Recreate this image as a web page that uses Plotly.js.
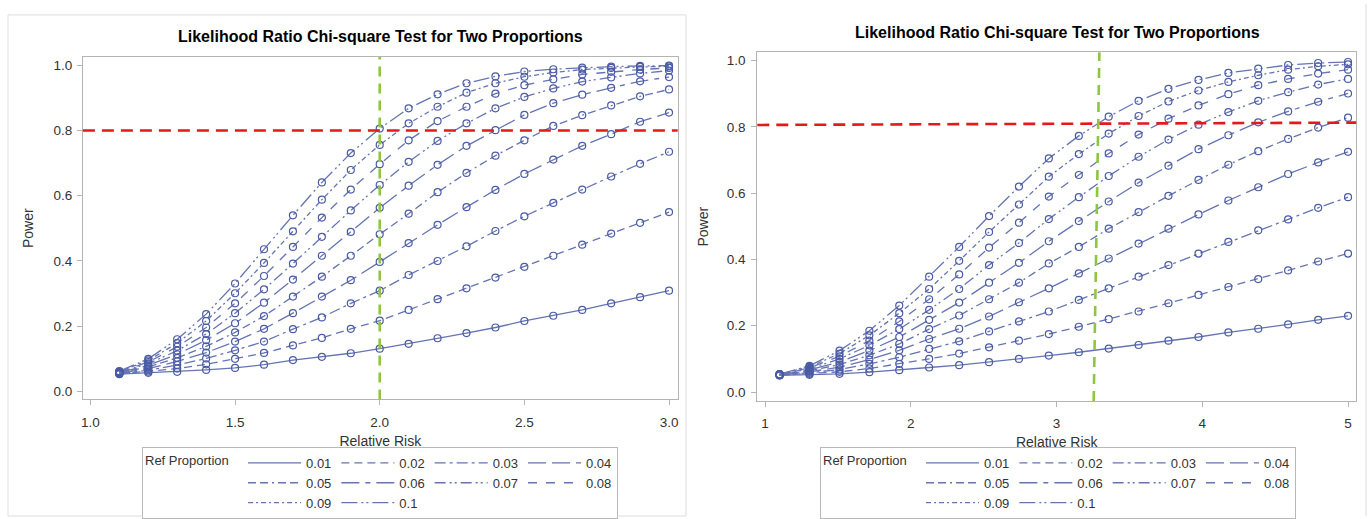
<!DOCTYPE html>
<html>
<head>
<meta charset="utf-8">
<script src="https://cdn.plot.ly/plotly-3.0.1.min.js"></script>
<style>
html,body{margin:0;padding:0;background:#ffffff;}
#chart{width:1370px;height:519px;}
</style>
</head>
<body>
<div id="chart"></div>
<script>
// ---------------- data ----------------
const chartTitle = 'Likelihood Ratio Chi-square Test for Two Proportions';
const refProportions = ['0.01','0.02','0.03','0.04','0.05','0.06','0.07','0.08','0.09','0.1'];

// Left panel: relative risk 1.1 .. 3.0
const relRiskLeft = [1.1,1.2,1.3,1.4,1.5,1.6,1.7,1.8,1.9,2.0,2.1,2.2,2.3,2.4,2.5,2.6,2.7,2.8,2.9,3.0];
const powerLeft01 = [0.053,0.057,0.060,0.066,0.072,0.082,0.096,0.106,0.117,0.131,0.146,0.163,0.179,0.196,0.216,0.232,0.250,0.270,0.289,0.309];
const powerLeft02 = [0.054,0.061,0.070,0.083,0.100,0.118,0.141,0.164,0.192,0.217,0.250,0.283,0.316,0.349,0.382,0.416,0.450,0.484,0.517,0.550];
const powerLeft03 = [0.055,0.065,0.081,0.101,0.126,0.153,0.191,0.227,0.270,0.309,0.357,0.400,0.445,0.492,0.537,0.578,0.619,0.659,0.698,0.735];
const powerLeft04 = [0.056,0.070,0.092,0.119,0.153,0.192,0.240,0.291,0.341,0.397,0.455,0.511,0.565,0.618,0.667,0.711,0.753,0.789,0.827,0.855];
const powerLeft05 = [0.057,0.075,0.103,0.138,0.181,0.231,0.291,0.352,0.416,0.482,0.545,0.611,0.670,0.723,0.770,0.814,0.847,0.877,0.905,0.926];
const powerLeft06 = [0.058,0.080,0.114,0.157,0.209,0.272,0.343,0.416,0.489,0.563,0.631,0.695,0.753,0.801,0.848,0.884,0.910,0.931,0.951,0.964];
const powerLeft07 = [0.059,0.085,0.125,0.176,0.240,0.313,0.392,0.474,0.555,0.633,0.704,0.768,0.822,0.868,0.903,0.929,0.950,0.963,0.975,0.984];
const powerLeft08 = [0.060,0.090,0.137,0.196,0.270,0.354,0.443,0.533,0.619,0.697,0.770,0.829,0.873,0.913,0.939,0.957,0.972,0.980,0.987,0.992];
const powerLeft09 = [0.061,0.095,0.148,0.216,0.301,0.394,0.491,0.588,0.679,0.756,0.822,0.873,0.916,0.945,0.965,0.978,0.987,0.992,0.995,0.997];
const powerLeft10 = [0.062,0.100,0.160,0.237,0.331,0.436,0.540,0.641,0.731,0.806,0.868,0.911,0.945,0.966,0.981,0.988,0.993,0.996,0.998,0.999];

// Right panel: relative risk 1.1 .. 5.0
const relRiskRight = [1.1,1.305,1.511,1.716,1.921,2.126,2.332,2.537,2.742,2.947,3.153,3.358,3.563,3.768,3.974,4.179,4.384,4.589,4.795,5.0];
const powerRight01 = [0.050,0.052,0.055,0.060,0.066,0.074,0.081,0.090,0.100,0.110,0.120,0.131,0.142,0.155,0.166,0.180,0.191,0.204,0.218,0.230];
const powerRight02 = [0.051,0.055,0.061,0.071,0.085,0.100,0.116,0.135,0.155,0.175,0.197,0.220,0.243,0.268,0.293,0.317,0.341,0.367,0.394,0.418];
const powerRight03 = [0.051,0.058,0.068,0.085,0.105,0.130,0.153,0.183,0.213,0.243,0.278,0.313,0.348,0.383,0.418,0.453,0.488,0.521,0.556,0.588];
const powerRight04 = [0.051,0.061,0.075,0.098,0.126,0.160,0.191,0.228,0.271,0.313,0.358,0.403,0.448,0.493,0.536,0.578,0.618,0.658,0.693,0.725];
const powerRight05 = [0.052,0.064,0.083,0.111,0.145,0.190,0.231,0.280,0.330,0.388,0.438,0.493,0.543,0.592,0.640,0.686,0.727,0.764,0.798,0.828];
const powerRight06 = [0.052,0.067,0.091,0.125,0.166,0.218,0.270,0.330,0.390,0.455,0.516,0.575,0.632,0.683,0.733,0.775,0.814,0.847,0.876,0.901];
const powerRight07 = [0.053,0.070,0.100,0.141,0.190,0.248,0.311,0.383,0.450,0.522,0.588,0.652,0.710,0.762,0.807,0.845,0.879,0.905,0.928,0.945];
const powerRight08 = [0.053,0.073,0.108,0.155,0.213,0.280,0.355,0.436,0.511,0.590,0.655,0.720,0.777,0.825,0.865,0.899,0.926,0.945,0.961,0.973];
const powerRight09 = [0.054,0.076,0.116,0.171,0.238,0.311,0.396,0.483,0.566,0.650,0.718,0.780,0.833,0.877,0.910,0.936,0.956,0.973,0.983,0.989];
const powerRight10 = [0.054,0.079,0.125,0.185,0.261,0.348,0.438,0.531,0.620,0.705,0.773,0.831,0.879,0.915,0.942,0.963,0.976,0.987,0.993,0.996];

// Reference lines (target power and relative risk)
const targetPowerLeft = [0.8, 0.8];
const targetRRLeft = [2.0, 2.0];
const targetPowerRight = [0.806, 0.813];
const targetRRRight = [3.255, 3.294];

// ---------------- styles ----------------
const powerLeft = [powerLeft01,powerLeft02,powerLeft03,powerLeft04,powerLeft05,powerLeft06,powerLeft07,powerLeft08,powerLeft09,powerLeft10];
const powerRight = [powerRight01,powerRight02,powerRight03,powerRight04,powerRight05,powerRight06,powerRight07,powerRight08,powerRight09,powerRight10];
const dashes = [
  'solid',
  '8px,5px',
  '11px,4px,3px,4px',
  '18px,6px',
  '8px,4px,8px,4px,2px,4px',
  '18px,6px,5px,6px',
  '11px,4px,2px,3px,2px,4px',
  '9px,9px',
  '5px,3px,2px,3px',
  '16px,4px,2px,3px,2px,4px'
];
const lineColor = '#6574b3';
const markerColor = '#4b5ba6';
const FONT = 'Liberation Sans, Arial, sans-serif';
const W = 1370, H = 519;
const px = v => v / W;
const py = v => 1 - v / H;

const traces = [];
function addPanel(xs, ys, xa, ya, legendName) {
  ys.forEach((y, i) => {
    traces.push({
      type: 'scatter', mode: 'lines', x: xs, y: y, xaxis: xa, yaxis: ya,
      name: refProportions[i], legend: legendName, legendgroup: legendName + 'c' + (i % 4),
      line: {color: lineColor, width: 1.3, dash: dashes[i]},
      hoverinfo: 'skip'
    });
  });
  ys.forEach((y, i) => {
    traces.push({
      type: 'scatter', mode: 'markers', x: xs, y: y, xaxis: xa, yaxis: ya,
      name: refProportions[i], showlegend: false,
      marker: {symbol: 'circle-open', size: 7, color: markerColor, line: {width: 1.2, color: markerColor}}
    });
  });
}
addPanel(relRiskLeft, powerLeft, 'x', 'y', 'legend');
addPanel(relRiskRight, powerRight, 'x2', 'y2', 'legend2');

const axisCommon = {
  showline: true, mirror: true, linecolor: '#b4b4b4', linewidth: 1,
  ticks: 'outside', ticklen: 5, tickcolor: '#b4b4b4', tickwidth: 1,
  showgrid: false, zeroline: false,
  tickfont: {family: FONT, size: 13.5, color: '#333333'}
};
const titleFont = {family: FONT, size: 14, color: '#333333'};

const legendCommon = {
  orientation: 'h', traceorder: 'grouped', tracegroupgap: 0,
  xanchor: 'left', yanchor: 'top', y: py(449.5),
  bgcolor: '#ffffff', bordercolor: '#b8b8b8', borderwidth: 1,
  font: {family: FONT, size: 13, color: '#333333'},
  title: {text: 'Ref Proportion\u00a0\u00a0', side: 'left', font: {family: FONT, size: 13, color: '#333333'}},
  itemwidth: 53
};

const layout = {
  width: W, height: H,
  margin: {l: 0, r: 0, t: 0, b: 0},
  paper_bgcolor: '#ffffff', plot_bgcolor: '#ffffff',
  showlegend: true,
  xaxis: Object.assign({}, axisCommon, {
    domain: [px(82.9), px(677.7)], range: [0.974, 3.030], anchor: 'y',
    tick0: 1, dtick: 0.5, tickformat: '.1f', ticklabelstandoff: 5,
    title: {text: 'Relative Risk', font: titleFont, standoff: 7}
  }),
  yaxis: Object.assign({}, axisCommon, {
    domain: [py(401.7), py(57.3)], range: [-0.0244, 1.0256], anchor: 'x',
    tick0: 0, dtick: 0.2, tickformat: '.1f', ticklabelstandoff: 2,
    title: {text: 'Power', font: titleFont, standoff: 16}
  }),
  xaxis2: Object.assign({}, axisCommon, {
    domain: [px(757.3), px(1356.2)], range: [0.947, 5.056], anchor: 'y2',
    tick0: 1, dtick: 1, ticklabelstandoff: 5,
    title: {text: 'Relative Risk', font: titleFont, standoff: 7}
  }),
  yaxis2: Object.assign({}, axisCommon, {
    domain: [py(403.3), py(52.7)], range: [-0.027, 1.025], anchor: 'x2',
    tick0: 0, dtick: 0.2, tickformat: '.1f', ticklabelstandoff: 3,
    title: {text: 'Power', font: titleFont, standoff: 14}
  }),
  legend: Object.assign({}, legendCommon, {x: px(142)}),
  legend2: Object.assign({}, legendCommon, {x: px(820)}),
  annotations: [
    {text: chartTitle, xref: 'paper', yref: 'paper', x: px(380), y: py(36.7), xanchor: 'center', yanchor: 'middle',
     showarrow: false, font: {family: FONT, size: 16, color: '#000000', weight: 'bold'}},
    {text: chartTitle, xref: 'paper', yref: 'paper', x: px(1057.5), y: py(32.3), xanchor: 'center', yanchor: 'middle',
     showarrow: false, font: {family: FONT, size: 16, color: '#000000', weight: 'bold'}}
  ],
  shapes: [
    // light outer frames of the two pictures
    {type: 'rect', xref: 'paper', yref: 'paper', x0: px(8), x1: px(686), y0: py(519), y1: py(15),
     line: {color: '#dddddd', width: 1}, layer: 'below'},
    {type: 'line', xref: 'paper', yref: 'paper', x0: px(1366), x1: px(1366), y0: py(519), y1: py(4),
     line: {color: '#dddddd', width: 1}, layer: 'below'},
    {type: 'line', xref: 'x domain', yref: 'y', x0: 0, x1: 1, y0: targetPowerLeft[0], y1: targetPowerLeft[1],
     line: {color: '#e3191c', width: 2.6, dash: '12px,7px'}, layer: 'above'},
    {type: 'line', xref: 'x', yref: 'y domain', x0: targetRRLeft[0], x1: targetRRLeft[1], y0: 0, y1: 1,
     line: {color: '#8dc63f', width: 2.6, dash: '10px,7px'}, layer: 'above'},
    {type: 'line', xref: 'x2 domain', yref: 'y2', x0: 0, x1: 1, y0: targetPowerRight[0], y1: targetPowerRight[1],
     line: {color: '#e3191c', width: 2.6, dash: '12px,7px'}, layer: 'above'},
    {type: 'line', xref: 'x2', yref: 'y2 domain', x0: targetRRRight[0], x1: targetRRRight[1], y0: 0, y1: 1,
     line: {color: '#8dc63f', width: 2.6, dash: '10px,7px'}, layer: 'above'}
  ]
};

Plotly.newPlot('chart', traces, layout, {staticPlot: true, displayModeBar: false});
</script>
</body>
</html>
